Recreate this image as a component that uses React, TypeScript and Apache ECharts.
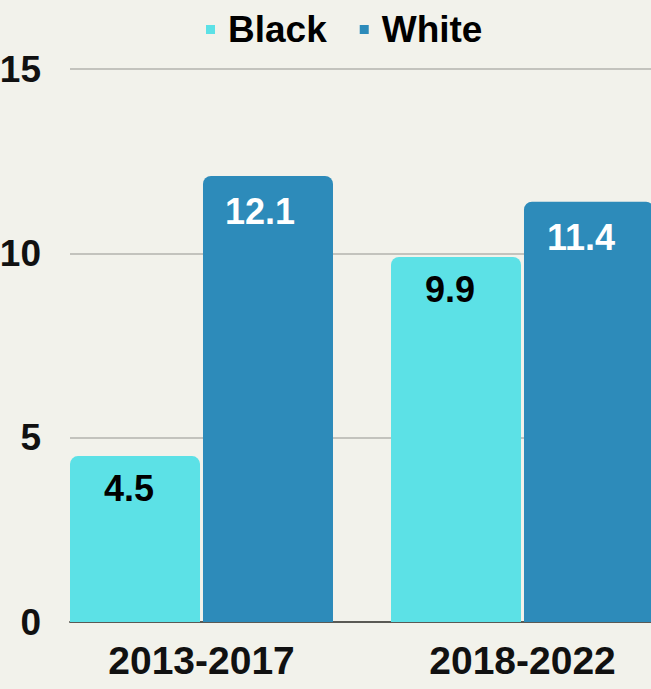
import React, { useEffect, useRef } from "react";
import * as echarts from "echarts";

const categories = ["2013-2017", "2018-2022"];
const blackValues = [4.5, 9.9];
const whiteValues = [12.1, 11.4];
const yTicks = { min: 0, max: 15, interval: 5 };

const FONT = "'Liberation Sans', Arial, sans-serif";

export default function App() {
  const ref = useRef<HTMLDivElement>(null);
  useEffect(() => {
    document.body.style.margin = "0";
    const chart = echarts.init(ref.current!, null, { renderer: "svg" });
    chart.setOption({
      animation: false,
      backgroundColor: "#f2f2eb",
      textStyle: { fontFamily: FONT },
      legend: {
        top: 6,
        left: 201,
        icon: "rect",
        itemWidth: 9,
        itemHeight: 9,
        itemGap: 33,
        textStyle: { fontSize: 37, fontWeight: "bold", color: "#000", fontFamily: FONT, padding: [0, 0, 0, 8] },
        data: ["Black", "White"],
      },
      grid: [
        { left: 41, width: 642, top: 69, bottom: 67, outerBoundsMode: "none" },
        { left: 70, right: 0, top: 69, bottom: 67, outerBoundsMode: "none" },
      ],
      xAxis: [
        {
          type: "category",
          gridIndex: 0,
          data: categories,
          axisLine: { show: false },
          axisTick: { show: false },
          axisLabel: { fontSize: 39, fontWeight: "bold", color: "#111", margin: 19, fontFamily: FONT },
        },
        {
          type: "value",
          gridIndex: 1,
          min: 0,
          max: 1,
          axisLine: { show: true, onZero: false, lineStyle: { color: "#5a5a55", width: 2 } },
          axisTick: { show: false },
          axisLabel: { show: false },
          splitLine: { show: false },
        },
      ],
      yAxis: [
        {
          type: "value",
          gridIndex: 0,
          min: yTicks.min,
          max: yTicks.max,
          interval: yTicks.interval,
          axisLabel: { show: false },
          splitLine: { show: false },
          axisLine: { show: false },
          axisTick: { show: false },
        },
        {
          type: "value",
          gridIndex: 1,
          min: yTicks.min,
          max: yTicks.max,
          interval: yTicks.interval,
          axisLabel: { fontSize: 37, fontWeight: "bold", color: "#111", margin: 29, fontFamily: FONT },
          splitLine: { lineStyle: { color: "#b3b3ae", width: 1.5 } },
          axisLine: { show: false },
          axisTick: { show: false },
        },
      ],
      series: [
        {
          name: "Black",
          type: "bar",
          xAxisIndex: 0,
          yAxisIndex: 0,
          data: blackValues,
          barWidth: 130,
          barGap: "2.3%",
          itemStyle: { color: "#5ce1e6", borderRadius: [8, 8, 0, 0] },
          label: {
            show: true,
            position: "insideTop",
            distance: 14,
            offset: [-6, 0],
            fontSize: 36,
            fontWeight: "bold",
            color: "#000",
            fontFamily: FONT,
          },
        },
        {
          name: "White",
          type: "bar",
          xAxisIndex: 0,
          yAxisIndex: 0,
          data: whiteValues,
          barWidth: 130,
          barGap: "2.3%",
          itemStyle: { color: "#2d8bba", borderRadius: [8, 8, 0, 0] },
          label: {
            show: true,
            position: "insideTop",
            distance: 18,
            offset: [-8, 0],
            fontSize: 36,
            fontWeight: "bold",
            color: "#fff",
            fontFamily: FONT,
          },
        },
      ],
    });
    return () => chart.dispose();
  }, []);
  return <div ref={ref} style={{ width: 651, height: 689 }} />;
}
